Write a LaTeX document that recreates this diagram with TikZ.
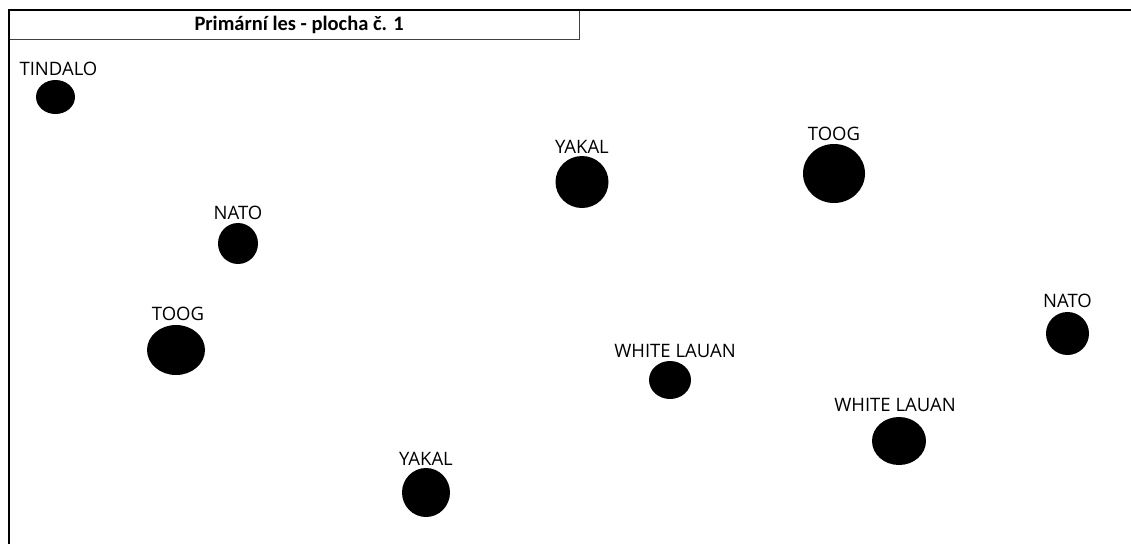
\documentclass[tikz,border=0pt]{standalone}
\usepackage{fontspec}
\setmainfont{Open Sans}
\newfontfamily\titlefont{Carlito}
\usetikzlibrary{shapes.geometric, positioning}

\begin{document}
\begin{tikzpicture}[
    x=1pt, y=-1pt,
    tree/.style={ellipse, fill=black, inner sep=0pt},
    species/.style={font=\fontsize{18.5}{20}\selectfont, inner sep=0pt},
    titlebox/.style={rectangle, draw=black!75, line width=1.2pt, minimum width=570pt, minimum height=29.5pt, anchor=north west, inner sep=0pt, font=\titlefont\bfseries\fontsize{20.5}{22}\selectfont},
    frame/.style={line width=2pt, black},
]
\useasboundingbox (0,0) rectangle (1131,544);

% title and plot border
\node[titlebox] (title) at (8.5,9.5) {\hspace*{10pt}Primární les - plocha č. 1};
\draw[frame] (1131,9.5) -- (8.5,9.5) -- (8.5,544);

% trees
\node[tree, minimum width=39pt, minimum height=34pt] (tindalo) at (55.5,97) {};
\node[tree, minimum width=40pt, minimum height=41pt] (nato1) at (238,243.5) {};
\node[tree, minimum width=58pt, minimum height=50pt] (toog1) at (176,350) {};
\node[tree, minimum width=53pt, minimum height=52pt] (yakal1) at (582,182) {};
\node[tree, minimum width=62pt, minimum height=59pt] (toog2) at (834,173.5) {};
\node[tree, minimum width=43pt, minimum height=43pt] (nato2) at (1067.5,333.5) {};
\node[tree, minimum width=42pt, minimum height=38pt] (lauan1) at (670,380) {};
\node[tree, minimum width=54pt, minimum height=48pt] (lauan2) at (899,441) {};
\node[tree, minimum width=48pt, minimum height=49pt] (yakal2) at (426,492.5) {};

% names
\node[species] (tindalo-name) at (58.5,68.5) {TINDALO};
\node[species] (nato1-name) at (238,212.5) {NATO};
\node[species] (toog1-name) at (178,314) {TOOG};
\node[species] (yakal1-name) at (582,146.5) {YAKAL};
\node[species] (toog2-name) at (834,134) {TOOG};
\node[species] (nato2-name) at (1067.5,300.5) {NATO};
\node[species] (lauan1-name) at (675,351) {WHITE LAUAN};
\node[species] (lauan2-name) at (895,404.5) {WHITE LAUAN};
\node[species] (yakal2-name) at (426,458.5) {YAKAL};

\end{tikzpicture}
\end{document}
